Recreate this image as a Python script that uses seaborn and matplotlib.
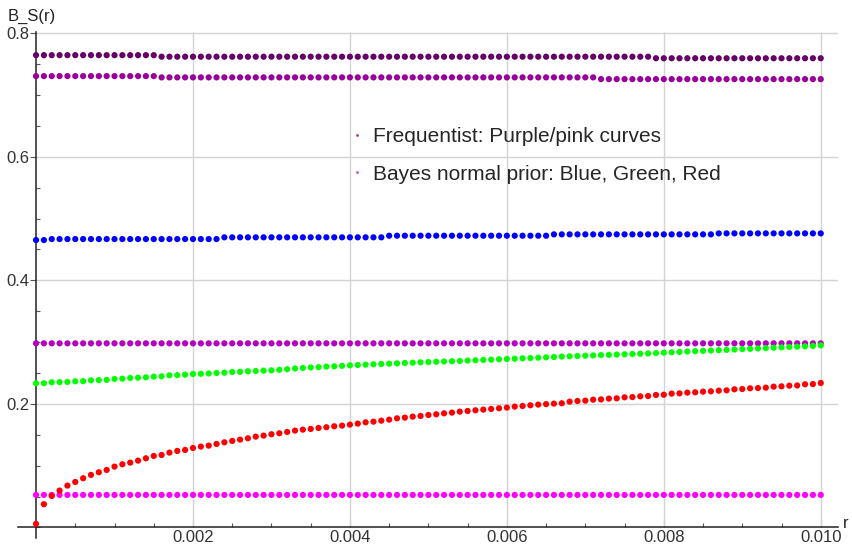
import numpy as np
import pandas as pd
import matplotlib
matplotlib.use("Agg")
import matplotlib.pyplot as plt
from matplotlib.lines import Line2D
from matplotlib.ticker import MultipleLocator
import seaborn as sns

# ---------------- data ----------------
r_values = [round(i * 0.0001, 4) for i in range(101)]

freq_top = [0.7645] * 16 + [0.7620] * 63 + [0.7595] * 22
freq_second = [0.7306] * 16 + [0.7285] * 56 + [0.7257] * 29
freq_mid = [0.2980] * 101
freq_low = [0.0526] * 101

bayes_blue = ([0.4652] * 2 + [0.4668] * 22 + [0.4696] * 21 + [0.4722] * 21
              + [0.4744] * 21 + [0.4760] * 14)

bayes_green = [
    0.2333, 0.2335, 0.2349, 0.2352, 0.2355, 0.2365, 0.2368, 0.2381, 0.2384, 0.2389,
    0.2403, 0.2408, 0.2419, 0.2424, 0.2430, 0.2441, 0.2446, 0.2462, 0.2465, 0.2473,
    0.2484, 0.2487, 0.2492, 0.2500, 0.2505, 0.2516, 0.2519, 0.2527, 0.2532, 0.2538,
    0.2543, 0.2551, 0.2562, 0.2573, 0.2581, 0.2589, 0.2594, 0.2603, 0.2608, 0.2616,
    0.2624, 0.2629, 0.2635, 0.2640, 0.2646, 0.2651, 0.2656, 0.2662, 0.2667, 0.2672,
    0.2676, 0.2681, 0.2686, 0.2690, 0.2695, 0.2701, 0.2706, 0.2711, 0.2716, 0.2722,
    0.2727, 0.2731, 0.2737, 0.2742, 0.2748, 0.2753, 0.2759, 0.2765, 0.2770, 0.2775,
    0.2780, 0.2784, 0.2789, 0.2793, 0.2798, 0.2802, 0.2807, 0.2811, 0.2816, 0.2822,
    0.2829, 0.2835, 0.2841, 0.2847, 0.2852, 0.2858, 0.2863, 0.2869, 0.2874, 0.2880,
    0.2886, 0.2891, 0.2897, 0.2903, 0.2909, 0.2915, 0.2920, 0.2926, 0.2932, 0.2938,
    0.2948,
]

bayes_red = [
    0.0057, 0.0375, 0.0510, 0.0596, 0.0677, 0.0736, 0.0796, 0.0850, 0.0893, 0.0930,
    0.0984, 0.1022, 0.1049, 0.1081, 0.1119, 0.1157, 0.1173, 0.1211, 0.1238, 0.1254,
    0.1286, 0.1308, 0.1324, 0.1351, 0.1378, 0.1400, 0.1421, 0.1443, 0.1470, 0.1486,
    0.1508, 0.1524, 0.1545, 0.1567, 0.1583, 0.1594, 0.1610, 0.1622, 0.1637, 0.1648,
    0.1664, 0.1680, 0.1701, 0.1712, 0.1728, 0.1745, 0.1766, 0.1777, 0.1793, 0.1804,
    0.1820, 0.1831, 0.1847, 0.1858, 0.1874, 0.1885, 0.1896, 0.1907, 0.1918, 0.1929,
    0.1940, 0.1955, 0.1966, 0.1977, 0.1988, 0.1996, 0.2004, 0.2010, 0.2036, 0.2047,
    0.2052, 0.2068, 0.2072, 0.2085, 0.2090, 0.2106, 0.2110, 0.2122, 0.2127, 0.2144,
    0.2148, 0.2166, 0.2170, 0.2182, 0.2187, 0.2198, 0.2203, 0.2214, 0.2219, 0.2236,
    0.2240, 0.2252, 0.2256, 0.2263, 0.2279, 0.2284, 0.2295, 0.2298, 0.2317, 0.2320,
    0.2338,
]

series_names = ["freq_top", "freq_second", "freq_mid", "freq_low",
                "bayes_blue", "bayes_green", "bayes_red"]
series_values = [freq_top, freq_second, freq_mid, freq_low,
                 bayes_blue, bayes_green, bayes_red]
series_colors = ["#660066", "#990099", "#b400c0", "#ff00ff",
                 "#0000ff", "#00ff00", "#ff0000"]

x_tick_values = [0.002, 0.004, 0.006, 0.008, 0.010]
x_tick_labels = ["0.002", "0.004", "0.006", "0.008", "0.010"]
y_tick_values = [0.2, 0.4, 0.6, 0.8]
y_tick_labels = ["0.2", "0.4", "0.6", "0.8"]

legend_labels = ["Frequentist: Purple/pink curves",
                 "Bayes normal prior: Blue, Green, Red"]
legend_colors = ["#a03c8c", "#c050c0"]

# ---------------- build table ----------------
frames = []
for name, vals in zip(series_names, series_values):
    frames.append(pd.DataFrame({"r": r_values, "B": vals, "series": name}))
df = pd.concat(frames, ignore_index=True)

# ---------------- plot ----------------
sns.set_theme(style="white")
plt.rcParams["font.family"] = ["Liberation Sans", "DejaVu Sans"]

fig = plt.figure(figsize=(8.52, 5.47), dpi=100)
ax = fig.add_axes([18 / 852, 1 - 537.6 / 547, (838 - 18) / 852, (537.6 - 32) / 547])

sns.scatterplot(data=df, x="r", y="B", hue="series", hue_order=series_names,
                palette=dict(zip(series_names, series_colors)),
                s=20, linewidth=0, legend=False, ax=ax, zorder=3)

ax.set_xlim(-0.00023, 0.01022)
ax.set_ylim(-0.0165, 0.802)

# Mathematica-style axes through the origin
for side in ["top", "right"]:
    ax.spines[side].set_visible(False)
ax.spines["left"].set_position(("data", 0))
ax.spines["bottom"].set_position(("data", 0))
for side in ["left", "bottom"]:
    ax.spines[side].set_color("#222222")
    ax.spines[side].set_linewidth(1.1)

ax.set_xticks(x_tick_values)
ax.set_xticklabels(x_tick_labels)
ax.set_yticks(y_tick_values)
ax.set_yticklabels(y_tick_labels)
ax.xaxis.set_minor_locator(MultipleLocator(0.0005))
ax.yaxis.set_minor_locator(MultipleLocator(0.05))
ax.tick_params(axis="x", which="major", direction="in", length=5, width=0.8,
               color="#555555", labelsize=12, labelcolor="#333333", pad=2,
               bottom=True)
ax.tick_params(axis="x", which="minor", direction="in", length=3, width=0.8,
               color="#555555", bottom=True)
ax.tick_params(axis="y", which="major", direction="out", length=4, width=0.8,
               color="#555555", labelsize=12, labelcolor="#333333", pad=1,
               left=True)
ax.tick_params(axis="y", which="minor", direction="in", length=3, width=0.8,
               color="#555555", left=True)
ax.set_xlabel("")
ax.set_ylabel("")

# grid lines only inside the positive quadrant
ax.vlines(ax.get_xticks(), 0, ax.get_ylim()[1], color="#d4d4d4", lw=1.0, zorder=1)
ax.hlines(ax.get_yticks(), 0, ax.get_xlim()[1], color="#d4d4d4", lw=1.0, zorder=1)

# axis labels (Mathematica places them at axis ends)
fig.text(8 / 852, 1 - 16 / 547, "B_S(r)", fontsize=12, color="#222222",
         ha="left", va="center")
fig.text(843 / 852, 1 - 523 / 547, "r", fontsize=12, color="#222222",
         ha="left", va="center")

handles = [Line2D([], [], linestyle="none", marker="o", markersize=2,
                  markerfacecolor=c, markeredgewidth=0) for c in legend_colors]
ax.legend(handles, legend_labels, loc="upper left",
          bbox_to_anchor=(349 / 852, 1 - 127 / 547), bbox_transform=fig.transFigure,
          frameon=False, fontsize=15, handlelength=0.75, handletextpad=0.4,
          labelspacing=0.9, borderpad=0, borderaxespad=0)

fig.savefig("out.png", dpi=100)
